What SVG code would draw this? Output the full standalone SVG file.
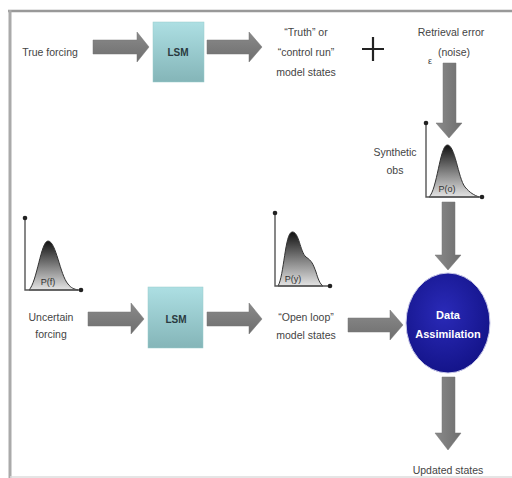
<svg xmlns="http://www.w3.org/2000/svg" width="512" height="478" viewBox="0 0 512 478">
<defs>
<style>
.t{font-family:"Liberation Sans",Arial,sans-serif;font-size:10.5px;fill:#444;text-anchor:middle}
.lsm{font-family:"Liberation Sans",Arial,sans-serif;font-size:10px;font-weight:bold;fill:#2a3a40;text-anchor:middle}
.da{font-family:"Liberation Sans",Arial,sans-serif;font-size:11px;font-weight:bold;fill:#fff;text-anchor:middle}
.arr{fill:url(#ag);stroke:#777;stroke-width:0.5}
.varr{fill:url(#vg);stroke:#777;stroke-width:0.5}
.box{fill:url(#bg);stroke:#9cc;stroke-width:0.5}
.ax{stroke:#555;stroke-width:1.4;fill:none}
.dot{fill:#222}
.crv{fill:url(#cg);stroke:#333;stroke-width:1}
</style>
<linearGradient id="ag" x1="0" y1="0" x2="0" y2="1"><stop offset="0" stop-color="#8a8a8a"/><stop offset="1" stop-color="#6e6e6e"/></linearGradient>
<linearGradient id="vg" x1="0" y1="0" x2="1" y2="0"><stop offset="0" stop-color="#8a8a8a"/><stop offset="1" stop-color="#6e6e6e"/></linearGradient>
<linearGradient id="bg" x1="0" y1="0" x2="0" y2="1"><stop offset="0" stop-color="#addfe3"/><stop offset="1" stop-color="#84b5b8"/></linearGradient>
<linearGradient id="cg" x1="0" y1="0" x2="0" y2="1"><stop offset="0" stop-color="#111"/><stop offset="0.55" stop-color="#888"/><stop offset="1" stop-color="#e4e4e4"/></linearGradient>
<radialGradient id="dg" cx="0.45" cy="0.4" r="0.6"><stop offset="0" stop-color="#2a2ab8"/><stop offset="1" stop-color="#14148a"/></radialGradient>
</defs>
<rect width="512" height="478" fill="#fff"/>
<g id="frame">
<line x1="8" y1="11" x2="512" y2="11" stroke="#999" stroke-width="2.5"/>
<line x1="10" y1="10" x2="10" y2="478" stroke="#aaa" stroke-width="3"/>
<line x1="10" y1="477" x2="512" y2="477" stroke="#ddd" stroke-width="1.5"/>
</g>
<g id="connectors">
<polygon class="arr" points="93,40 137,40 137,32 149,47 137,62 137,54 93,54"/>
<polygon class="arr" points="207,40 249,40 249,32 262,47 249,62 249,54 207,54"/>
<polygon class="arr" points="88,312 131,312 131,303 144,319 131,334 131,326 88,326"/>
<polygon class="arr" points="207,312 249,312 249,303 262,319 249,334 249,326 207,326"/>
<polygon class="arr" points="348,318 390,318 390,310 403,325 390,340 390,332 348,332"/>
<polygon class="varr" points="443,63 456,63 456,123 462,123 449,138 436,123 443,123"/>
<polygon class="varr" points="442,202 455,202 455,255 461,255 448,270 435,255 442,255"/>
<polygon class="varr" points="442,377 455,377 455,433 461,433 448,450 435,433 442,433"/>
</g>
<g id="true-forcing"><text class="t" x="50" y="56">True forcing</text></g>
<g id="lsm1"><rect class="box" x="153" y="22" width="51" height="60"/><text class="lsm" x="178" y="56">LSM</text></g>
<g id="truth-states">
<text class="t" x="306" y="36">“Truth” or</text>
<text class="t" x="306" y="56">“control run”</text>
<text class="t" x="306" y="76">model states</text>
</g>
<g id="plus"><path d="M362,49 H384 M373,37 V61" stroke="#222" stroke-width="2.2"/></g>
<g id="retrieval-error">
<text class="t" x="451" y="36">Retrieval error</text>
<text class="t" x="454" y="56">(noise)</text>
<text class="t" x="430" y="64" style="font-size:9px">ε</text>
</g>
<g id="synthetic-obs">
<text class="t" x="395" y="156">Synthetic</text>
<text class="t" x="395" y="174">obs</text>
<path class="crv" d="M429,197 C437,190 440,146 447,145 C455,144 458,178 465,187 C470,193 474,195 479,197 Z"/>
<path class="ax" d="M426,123 V197 H482"/>
<circle class="dot" cx="426" cy="123" r="2.3"/><circle class="dot" cx="482" cy="197" r="2.3"/>
<text class="t" x="447" y="192" style="font-size:9px;fill:#333">P(o)</text>
</g>
<g id="uncertain-forcing">
<path class="crv" d="M29,290 C37,282 41,241 48,241 C56,241 60,275 68,284 C71,288 74,289 78,290 Z"/>
<path class="ax" d="M25,218 V290 H81"/>
<circle class="dot" cx="25" cy="218" r="2.3"/><circle class="dot" cx="81" cy="290" r="2.3"/>
<text class="t" x="48" y="285" style="font-size:9px;fill:#333">P(f)</text>
<text class="t" x="51" y="321">Uncertain</text>
<text class="t" x="51" y="338">forcing</text>
</g>
<g id="lsm2"><rect class="box" x="148" y="287" width="55" height="61"/><text class="lsm" x="176" y="323">LSM</text></g>
<g id="open-loop">
<path class="crv" d="M278,286 C284,276 285,233 292,232 C299,231 300,252 306,257 C312,261 313,264 316,272 C318,279 320,284 323,286 Z"/>
<path class="ax" d="M275,213 V286 H330"/>
<circle class="dot" cx="275" cy="213" r="2.3"/><circle class="dot" cx="330" cy="286" r="2.3"/>
<text class="t" x="293" y="282" style="font-size:9px;fill:#333">P(y)</text>
<text class="t" x="306" y="321">“Open loop”</text>
<text class="t" x="306" y="339">model states</text>
</g>
<g id="data-assimilation">
<ellipse cx="448" cy="323" rx="42" ry="50" fill="url(#dg)" stroke="#c8c8e8" stroke-width="1"/>
<text class="da" x="448" y="319">Data</text>
<text class="da" x="448" y="338">Assimilation</text>
</g>
<g id="updated-states"><text class="t" x="448" y="474">Updated states</text></g>
</svg>
